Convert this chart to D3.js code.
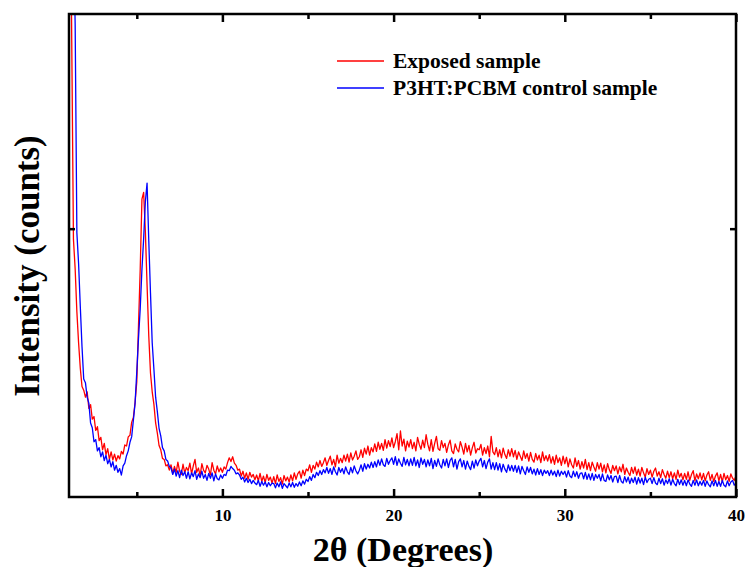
<!DOCTYPE html>
<html lang="en">
<head>
<meta charset="UTF-8">
<title>XRD pattern</title>
<style>
  body { margin: 0; background: #fff; }
  svg { display: block; font-family: "Liberation Serif", "Times New Roman", serif; font-weight: bold; }
</style>
<script src="https://d3js.org/d3.v7.min.js"></script>
</head>
<body>
<div id="chart"></div>
<script>
  // scan grid, 1.0 to 40.0 degrees in 0.1 steps
  const twoTheta = d3.range(10, 401).map(i => i / 10);

  // intensities, one row per degree
  const exposed = [
    3400, 2500, 1700, 960, 850, 690, 575, 480, 412, 398,
    372, 392, 330, 344, 290, 300, 248, 262, 210, 222,
    176, 200, 158, 180, 140, 168, 138, 160, 134, 154,
    142, 170, 160, 194, 190, 224, 230, 278, 296, 352,
    430, 640, 850, 1110, 1135, 990, 790, 600, 462, 392,
    345, 276, 238, 192, 176, 144, 140, 116, 120, 100,
    120, 88, 114, 92, 130, 96, 84, 122, 90, 110,
    98, 126, 86, 116, 140, 92, 108, 80, 124, 100,
    90, 118, 104, 82, 128, 100, 86, 116, 94, 108,
    92, 112, 104, 128, 146, 132, 150, 126, 118, 100,
    104, 78, 96, 70, 90, 66, 92, 74, 84, 64,
    82, 60, 88, 58, 78, 54, 84, 62, 74, 52,
    76, 50, 82, 58, 72, 48, 80, 60, 74, 56,
    82, 60, 90, 66, 86, 96, 70, 100, 80, 104,
    98, 120, 92, 118, 104, 130, 112, 136, 114, 128,
    146, 118, 136, 152, 120, 140, 112, 156, 126, 144,
    128, 156, 134, 160, 130, 164, 138, 152, 172, 140,
    150, 176, 148, 182, 160, 190, 156, 184, 168, 198,
    170, 204, 178, 200, 174, 214, 182, 210, 188, 220,
    184, 206, 236, 176, 246, 190, 216, 172, 208, 186,
    214, 180, 204, 172, 222, 196, 178, 212, 184, 232,
    196, 172, 214, 170, 200, 226, 180, 174, 210, 184,
    200, 166, 194, 212, 172, 162, 198, 178, 168, 206,
    186, 160, 200, 168, 192, 156, 184, 204, 164, 180,
    176, 196, 156, 184, 162, 190, 150, 226, 168, 158,
    184, 150, 176, 146, 182, 158, 144, 176, 152, 180,
    150, 174, 140, 168, 152, 136, 172, 144, 162, 134,
    166, 140, 130, 162, 138, 156, 128, 168, 136, 154,
    134, 158, 126, 150, 122, 156, 128, 146, 118, 152,
    124, 148, 112, 142, 120, 108, 146, 114, 136, 104,
    132, 108, 140, 102, 128, 98, 130, 112, 96, 128,
    104, 126, 94, 120, 90, 124, 102, 88, 118, 98,
    116, 86, 112, 94, 122, 84, 108, 92, 80, 110,
    88, 112, 82, 104, 78, 110, 90, 74, 106, 84,
    100, 74, 96, 108, 78, 94, 72, 102, 84, 70,
    96, 72, 94, 68, 90, 66, 100, 74, 88, 64,
    88, 66, 94, 62, 84, 98, 60, 86, 68, 90,
    64, 88, 60, 82, 94, 62, 84, 58, 78, 90,
    60, 84, 56, 88, 64, 80, 58, 86, 70, 62,
    78
  ];

  const control = [
    3600, 3000, 2500, 2100, 1760, 985, 870, 710, 560, 440,
    426, 372, 350, 276, 258, 206, 214, 172, 184, 150,
    168, 136, 156, 124, 140, 112, 132, 100, 118, 92,
    106, 82, 116, 126, 154, 172, 204, 224, 286, 350,
    468, 592, 702, 848, 962, 1100, 1170, 955, 760, 575,
    476, 372, 318, 256, 228, 184, 172, 140, 134, 114,
    108, 84, 104, 78, 98, 72, 100, 80, 94, 70,
    94, 68, 90, 76, 98, 66, 86, 72, 96, 70,
    84, 62, 88, 70, 90, 60, 86, 68, 64, 82,
    70, 84, 80, 100, 98, 114, 106, 100, 86, 90,
    82, 66, 74, 56, 70, 54, 66, 50, 62, 52,
    46, 62, 40, 58, 44, 56, 38, 54, 42, 52,
    50, 34, 52, 38, 56, 32, 50, 42, 34, 52,
    38, 54, 36, 50, 40, 56, 42, 60, 48, 66,
    58, 76, 62, 84, 72, 92, 80, 98, 84, 102,
    90, 110, 88, 106, 84, 112, 94, 82, 110, 92,
    106, 86, 112, 94, 84, 110, 90, 116, 98, 86,
    100, 120, 96, 124, 104, 122, 108, 130, 110, 132,
    112, 138, 118, 142, 120, 114, 144, 122, 136, 146,
    122, 150, 118, 142, 126, 114, 148, 120, 140, 116,
    142, 118, 148, 116, 138, 110, 146, 122, 140, 112,
    138, 116, 144, 106, 136, 114, 142, 120, 108, 140,
    116, 142, 110, 136, 146, 112, 140, 104, 132, 142,
    112, 136, 104, 134, 114, 102, 134, 108, 138, 116,
    134, 144, 112, 136, 106, 130, 142, 104, 128, 102,
    128, 100, 124, 94, 122, 104, 92, 120, 98, 118,
    96, 118, 92, 116, 86, 114, 98, 84, 112, 92,
    110, 86, 104, 82, 106, 84, 102, 80, 100, 88,
    98, 80, 100, 82, 96, 76, 100, 78, 96, 84,
    96, 74, 98, 78, 72, 96, 76, 94, 70, 88,
    90, 68, 92, 66, 86, 64, 88, 62, 84, 70,
    84, 60, 86, 62, 58, 82, 64, 80, 56, 76,
    78, 54, 80, 58, 52, 76, 56, 74, 50, 70,
    54, 74, 48, 72, 52, 70, 46, 74, 54, 66,
    70, 50, 72, 52, 46, 70, 50, 68, 44, 64,
    50, 68, 44, 66, 50, 42, 66, 46, 64, 44,
    62, 42, 64, 48, 40, 62, 44, 64, 42, 58,
    44, 62, 40, 60, 46, 38, 60, 42, 62, 40,
    58, 40, 62, 44, 38, 60, 42, 56, 62, 44,
    52
  ];

  const seriesNames = ["Exposed sample", "P3HT:PCBM control sample"];
  const seriesColors = ["#ff0000", "#0000ff"];
  const xMajorTicks = [10, 20, 30, 40];
  const xMinorTicks = [5, 15, 25, 35];
  const yTicks = [1000];

  const W = 747, H = 567;
  const margin = {top: 14, right: 11, bottom: 70, left: 69};
  const width = W - margin.left - margin.right;
  const height = H - margin.top - margin.bottom;

  const x = d3.scaleLinear().domain([1.04, 40]).range([0, width]);
  const y = d3.scaleLinear().domain([0, 1800]).range([height, 0]);

  const svg = d3.select("#chart").append("svg")
    .attr("width", W)
    .attr("height", H);

  svg.append("defs").append("clipPath")
    .attr("id", "plot-clip")
    .append("rect")
    .attr("width", width)
    .attr("height", height);

  const g = svg.append("g")
    .attr("transform", `translate(${margin.left},${margin.top})`);

  const line = d3.line()
    .x((d, i) => x(twoTheta[i]))
    .y(d => y(d));

  const plot = g.append("g").attr("clip-path", "url(#plot-clip)");
  [exposed, control].forEach((s, k) => {
    plot.append("path")
      .datum(s)
      .attr("fill", "none")
      .attr("stroke", seriesColors[k])
      .attr("stroke-width", 1.3)
      .attr("stroke-linejoin", "round")
      .attr("d", line);
  });

  // axes with inward ticks on all four sides
  function styleAxis(sel) {
    sel.select(".domain").remove();
    sel.selectAll(".tick line").attr("stroke", "#000").attr("stroke-width", 2.5);
    sel.selectAll(".tick text")
      .attr("fill", "#000")
      .style("font-size", "17px")
      .style("font-family", "'Liberation Serif', 'Times New Roman', serif")
      .style("font-weight", "bold");
  }

  g.append("g")
    .attr("transform", `translate(0,${height})`)
    .call(d3.axisBottom(x).tickValues(xMajorTicks).tickSize(-8).tickPadding(12).tickFormat(d3.format("d")))
    .call(styleAxis);
  g.append("g")
    .attr("transform", `translate(0,${height})`)
    .call(d3.axisBottom(x).tickValues(xMinorTicks).tickSize(-5).tickFormat(""))
    .call(styleAxis);
  g.append("g")
    .call(d3.axisTop(x).tickValues(xMajorTicks).tickSize(-8).tickFormat(""))
    .call(styleAxis);
  g.append("g")
    .call(d3.axisTop(x).tickValues(xMinorTicks).tickSize(-5).tickFormat(""))
    .call(styleAxis);
  g.append("g")
    .call(d3.axisLeft(y).tickValues(yTicks).tickSize(-6).tickFormat(""))
    .call(styleAxis);
  g.append("g")
    .attr("transform", `translate(${width},0)`)
    .call(d3.axisRight(y).tickValues(yTicks).tickSize(-6).tickFormat(""))
    .call(styleAxis);

  g.append("rect")
    .attr("width", width)
    .attr("height", height)
    .attr("fill", "none")
    .attr("stroke", "#000")
    .attr("stroke-width", 2.5);

  // legend
  const legend = svg.append("g").attr("transform", "translate(337,61)");
  seriesNames.forEach((name, k) => {
    const row = legend.append("g").attr("transform", `translate(0,${k * 27})`);
    row.append("line")
      .attr("x1", 0).attr("x2", 47)
      .attr("stroke", seriesColors[k])
      .attr("stroke-width", 1.5);
    row.append("text")
      .attr("x", 56)
      .attr("y", 7)
      .style("font-size", "21.5px")
      .text(name);
  });

  // axis titles
  svg.append("text")
    .attr("x", 403)
    .attr("y", 561)
    .attr("text-anchor", "middle")
    .style("font-size", "34px")
    .text("2θ (Degrees)");

  svg.append("text")
    .attr("transform", "translate(39,266) rotate(-90)")
    .attr("text-anchor", "middle")
    .style("font-size", "35px")
    .text("Intensity (counts)");
</script>
</body>
</html>
